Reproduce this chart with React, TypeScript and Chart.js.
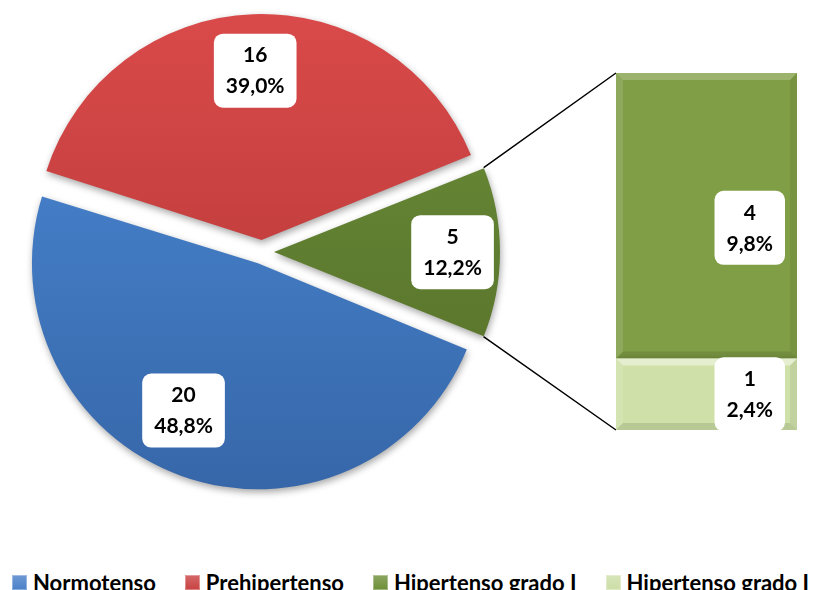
import React, { useEffect, useRef } from 'react';
import { Chart, registerables } from 'chart.js';

Chart.register(...registerables);

// ---- data ----
const pieLabels = ['Normotenso', 'Prehipertenso', 'Hipertenso'];
const pieValues = [20, 16, 5];
// stacked bar (breakdown of "Hipertenso"), bottom segment first
const barLabels = ['Hipertenso grado II', 'Hipertenso grado I'];
const barValues = [1, 4];
const legendLabels = ['Normotenso', 'Prehipertenso', 'Hipertenso grado I', 'Hipertenso grado II'];

// ---- styles ----
const pieTop = ['#4b8ad6', '#da4a4a', '#6c8e38'];
const pieBottom = ['#3666a8', '#b13535', '#536d28'];
const barColors = ['#cfe0a8', '#809e46'];
const barBevelLight = ['rgba(255,255,255,0.45)', 'rgba(255,255,255,0.22)'];
const barLabelDy = [0, 12];
const legendColors = ['#4a80c9', '#c94242', '#6e8f38', '#cddea7'];
const pieLabelFrac = [0.73, 0.75, 0.79];
const pieLabelShift = [7, 0, 0];
const RADIUS = 226;
const EXPLODE = 48; // chart.js translates arcs by offset/4
const FONT = 'bold 21px Lato';

const grandTotal = pieValues.reduce((a, b) => a + b, 0);
const pct = (v: number) => ((v / grandTotal) * 100).toFixed(1).replace('.', ',') + '%';

function drawLabel(ctx: CanvasRenderingContext2D, cx: number, cy: number, lines: string[]) {
  ctx.save();
  ctx.font = FONT;
  const tw = Math.max(...lines.map((l) => ctx.measureText(l).width));
  const w = tw + 24;
  const h = 74;
  const x = cx - w / 2;
  const y = cy - h / 2;
  ctx.fillStyle = '#ffffff';
  ctx.beginPath();
  (ctx as any).roundRect(x, y, w, h, 9);
  ctx.fill();
  ctx.fillStyle = '#000000';
  ctx.textAlign = 'center';
  ctx.textBaseline = 'middle';
  ctx.fillText(lines[0], cx, cy - 15);
  ctx.fillText(lines[1], cx, cy + 16);
  ctx.restore();
  return w;
}

function labelWidth(ctx: CanvasRenderingContext2D, lines: string[]) {
  ctx.save();
  ctx.font = FONT;
  const tw = Math.max(...lines.map((l) => ctx.measureText(l).width));
  ctx.restore();
  return tw + 24;
}

const BAR_LEFT = 598;
const BAR_TOP = 55;

export default function App() {
  const pieRef = useRef<HTMLCanvasElement>(null);
  const barRef = useRef<HTMLCanvasElement>(null);

  useEffect(() => {
    const prevHtml = document.documentElement.style.overflow;
    document.documentElement.style.overflow = 'hidden';
    document.body.style.overflow = 'hidden';

    const barBevel = {
      id: 'barBevel',
      beforeDatasetsDraw(chart: any) {
        const c = chart.ctx;
        c.save();
        c.shadowColor = 'rgba(0,0,0,0.35)';
        c.shadowBlur = 6;
        c.shadowOffsetX = 1;
        c.shadowOffsetY = 2;
      },
      afterDatasetsDraw(chart: any) {
        const c = chart.ctx;
        c.restore();
        chart.data.datasets.forEach((ds: any, i: number) => {
          const el = chart.getDatasetMeta(i).data[0];
          const l = el.x - el.width / 2;
          const r = el.x + el.width / 2;
          const t = Math.min(el.y, el.base);
          const b = Math.max(el.y, el.base);
          const s = 7;
          c.save();
          c.fillStyle = barBevelLight[i];
          c.beginPath();
          c.moveTo(l, t); c.lineTo(r, t); c.lineTo(r - s, t + s); c.lineTo(l + s, t + s); c.closePath();
          c.fill();
          c.fillStyle = 'rgba(255,255,255,0.12)';
          c.beginPath();
          c.moveTo(l, t); c.lineTo(l + s, t + s); c.lineTo(l + s, b - s); c.lineTo(l, b); c.closePath();
          c.fill();
          c.fillStyle = 'rgba(0,0,0,0.06)';
          c.beginPath();
          c.moveTo(r, t); c.lineTo(r - s, t + s); c.lineTo(r - s, b - s); c.lineTo(r, b); c.closePath();
          c.fill();
          c.fillStyle = 'rgba(0,0,0,0.10)';
          c.beginPath();
          c.moveTo(l, b); c.lineTo(r, b); c.lineTo(r - s, b - s); c.lineTo(l + s, b - s); c.closePath();
          c.fill();
          c.restore();
        });
        chart.data.datasets.forEach((ds: any, i: number) => {
          const el = chart.getDatasetMeta(i).data[0];
          const v = ds.data[0];
          const lines = [String(v), pct(v)];
          const w = labelWidth(c, lines);
          const right = el.x + el.width / 2 - 12;
          drawLabel(c, right - w / 2, (el.y + el.base) / 2 + barLabelDy[i], lines);
        });
      },
    };

    const barTotal = barValues.reduce((a, b) => a + b, 0);
    const barChart = new Chart(barRef.current as HTMLCanvasElement, {
      type: 'bar',
      data: {
        labels: [''],
        datasets: barLabels.map((l, i) => ({
          label: l,
          data: [barValues[i]],
          backgroundColor: barColors[i],
          borderWidth: 0,
          barPercentage: 1,
          categoryPercentage: 1,
        })),
      },
      options: {
        responsive: false,
        animation: false,
        layout: { padding: 10 },
        scales: {
          x: { display: false, stacked: true },
          y: { display: false, stacked: true, min: 0, max: barTotal },
        },
        plugins: { legend: { display: false }, tooltip: { enabled: false } },
      },
      plugins: [barBevel],
    } as any);

    const pieExtras = {
      id: 'pieExtras',
      beforeDatasetsDraw(chart: any) {
        const meta = chart.getDatasetMeta(0);
        const off = EXPLODE / 4;
        // keep every exploded slice at the same drawn radius
        meta.data.forEach((arc: any) => {
          const circ = arc.endAngle - arc.startAngle;
          const fix = 1 - Math.sin(Math.min(Math.PI, circ));
          arc.outerRadius = RADIUS - off * fix;
        });
        const c = chart.ctx;
        c.save();
        c.shadowColor = 'rgba(0,0,0,0.35)';
        c.shadowBlur = 7;
        c.shadowOffsetX = 1;
        c.shadowOffsetY = 3;
      },
      afterDatasetsDraw(chart: any) {
        const c = chart.ctx;
        c.restore();
        const meta = chart.getDatasetMeta(0);
        const off = EXPLODE / 4;
        const g = meta.data[2];
        const gm = (g.startAngle + g.endAngle) / 2;
        const gcx = g.x + Math.cos(gm) * off;
        const gcy = g.y + Math.sin(gm) * off;
        const bm = barChart.getDatasetMeta(1).data[0] as any;
        const bb = barChart.getDatasetMeta(0).data[0] as any;
        const barL = BAR_LEFT + bm.x - bm.width / 2;
        const barT = BAR_TOP + bm.y;
        const barB = BAR_TOP + bb.base;
        c.save();
        c.strokeStyle = '#000000';
        c.lineWidth = 1.5;
        c.beginPath();
        c.moveTo(gcx + Math.cos(g.startAngle) * RADIUS, gcy + Math.sin(g.startAngle) * RADIUS);
        c.lineTo(barL, barT);
        c.moveTo(gcx + Math.cos(g.endAngle) * RADIUS, gcy + Math.sin(g.endAngle) * RADIUS);
        c.lineTo(barL, barB);
        c.stroke();
        c.restore();
        meta.data.forEach((arc: any, i: number) => {
          const mid = (arc.startAngle + arc.endAngle) / 2;
          const cx = arc.x + Math.cos(mid) * off;
          const cy = arc.y + Math.sin(mid) * off;
          const a = mid + (pieLabelShift[i] * Math.PI) / 180;
          const r = RADIUS * pieLabelFrac[i];
          const v = pieValues[i];
          drawLabel(c, cx + Math.cos(a) * r, cy + Math.sin(a) * r, [String(v), pct(v)]);
        });
      },
    };

    const pieChart = new Chart(pieRef.current as HTMLCanvasElement, {
      type: 'pie',
      data: {
        labels: pieLabels,
        datasets: [
          {
            data: pieValues,
            clip: false,
            borderWidth: 0,
            offset: EXPLODE,
            backgroundColor: (ctx: any) => {
              const chart = ctx.chart;
              const area = chart.chartArea;
              const i = ctx.dataIndex;
              if (!area) return pieTop[i];
              const cy = (area.top + area.bottom) / 2;
              const gr = chart.ctx.createLinearGradient(0, cy - 235, 0, cy + 235);
              gr.addColorStop(0, pieTop[i]);
              gr.addColorStop(1, pieBottom[i]);
              return gr;
            },
          },
        ],
      },
      options: {
        responsive: false,
        animation: false,
        radius: RADIUS,
        rotation: 112,
        layout: { padding: { left: 0, top: 0, right: 294, bottom: 12 } },
        plugins: { legend: { display: false }, tooltip: { enabled: false } },
      },
      plugins: [pieExtras],
    } as any);

    return () => {
      pieChart.destroy();
      barChart.destroy();
      document.documentElement.style.overflow = prevHtml;
    };
  }, []);

  return (
    <div style={{ position: 'relative', width: 810, height: 582, overflow: 'hidden', background: '#fff' }}>
      <canvas ref={pieRef} width={802} height={500} style={{ position: 'absolute', left: 0, top: 0 }} />
      <canvas ref={barRef} width={201} height={377} style={{ position: 'absolute', left: BAR_LEFT, top: BAR_TOP }} />
      <div
        style={{
          position: 'absolute',
          left: 4,
          top: 564,
          display: 'flex',
          alignItems: 'flex-start',
          whiteSpace: 'nowrap',
          fontFamily: 'Lato',
          fontWeight: 'bold',
          fontSize: 22,
          lineHeight: '22px',
          color: '#000',
        }}
      >
        {legendLabels.map((l, i) => (
          <div key={l} style={{ display: 'flex', alignItems: 'flex-start', marginRight: 29 }}>
            <span
              style={{
                display: 'inline-block',
                width: 15,
                height: 15,
                marginTop: 3,
                marginRight: 6,
                background: `linear-gradient(180deg, ${legendColors[i]}cc, ${legendColors[i]})`,
                boxShadow: 'inset 0 0 0 1px rgba(255,255,255,0.35)',
              }}
            />
            <span>{l}</span>
          </div>
        ))}
      </div>
    </div>
  );
}
